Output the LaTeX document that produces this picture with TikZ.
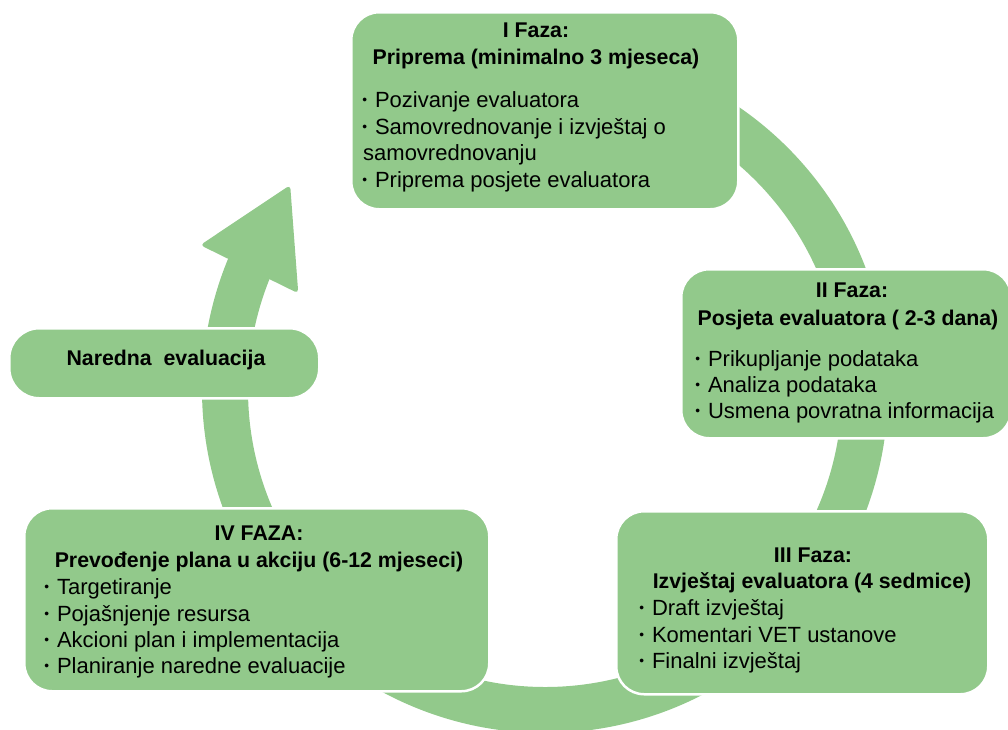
\documentclass[tikz,border=0pt]{standalone}
\usepackage{fontspec}
\setmainfont{Liberation Sans}
\definecolor{leaf}{RGB}{146,201,139}
% small list bullet followed by its gap
\newcommand{\listdot}{\makebox[13.8pt][l]{\hspace{1.2pt}\raisebox{2.8pt}{\scalebox{0.62}{•}}}}
\tikzset{
  box/.style={fill=leaf, draw=white, line width=2.5pt, rounded corners=28pt,
    anchor=north west, inner sep=0pt},
  ringline/.style={draw=leaf, line width=46pt},
  headtip/.style={fill=leaf, rounded corners=4pt},
  head/.style={inner sep=0pt, anchor=base, font=\fontsize{21.3}{26}\selectfont\bfseries},
  item/.style={inner sep=0pt, anchor=base west, font=\fontsize{22}{27}\selectfont},
}
\begin{document}
\begin{tikzpicture}[x=1pt,y=-1pt]
\useasboundingbox (0,0) rectangle (1008,729);

% circular arrow running clockwise behind the boxes
\begin{scope}[shift={(545,390)}]
  \coordinate (ringstart) at (-90:320);
  \draw[ringline] (ringstart) arc[start angle=-90, end angle=205, radius=320];
  \fill[headtip] (201.4:265) -- (218.8:327) -- (202.8:374) -- cycle;
\end{scope}

% phase boxes
\node[box, minimum width=387pt, minimum height=197pt] (b1) at (350,11) {};
\node[box, minimum width=330pt, minimum height=169pt] (b2) at (680,268) {};
\node[box, minimum width=372pt, minimum height=183pt] (b3) at (615,510) {};
\node[box, minimum width=465pt, minimum height=183pt] (b4) at (23,507) {};
\node[box, minimum width=310pt, minimum height=70pt, rounded corners=30pt] (b5) at (8,327) {};

% phase I
\node[head] (h1a) at (536,37) {I Faza:};
\node[head] (h1b) at (536,64) {Priprema (minimalno 3 mjeseca)};
\node[item] (i1a) at (361,107) {\listdot Pozivanje evaluatora};
\node[item] (i1b) at (361,134) {\listdot Samovrednovanje i izvještaj o};
\node[item] (i1c) at (363,160) {samovrednovanju};
\node[item] (i1d) at (361,187) {\listdot Priprema posjete evaluatora};

% phase II
\node[head] (h2a) at (852,297) {II Faza:};
\node[head] (h2b) at (848,325) {Posjeta evaluatora ( 2-3 dana)};
\node[item] (i2a) at (694,366) {\listdot Prikupljanje podataka};
\node[item] (i2b) at (694,392) {\listdot Analiza podataka};
\node[item] (i2c) at (694,418) {\listdot Usmena povratna informacija};

% phase III
\node[head] (h3a) at (813,562) {III Faza:};
\node[head] (h3b) at (812,588) {Izvještaj evaluatora (4 sedmice)};
\node[item] (i3a) at (638,615) {\listdot Draft izvještaj};
\node[item] (i3b) at (638,642) {\listdot Komentari VET ustanove};
\node[item] (i3c) at (638,668) {\listdot Finalni izvještaj};

% phase IV
\node[head] (h4a) at (259,540) {IV FAZA:};
\node[head] (h4b) at (259,567) {Prevođenje plana u akciju (6-12 mjeseci)};
\node[item] (i4a) at (43,594) {\listdot Targetiranje};
\node[item] (i4b) at (43,621) {\listdot Pojašnjenje resursa};
\node[item] (i4c) at (43,647) {\listdot Akcioni plan i implementacija};
\node[item] (i4d) at (43,673) {\listdot Planiranje naredne evaluacije};

% next evaluation
\node[head] (h5) at (166,365) {Naredna\ \ evaluacija};
\end{tikzpicture}
\end{document}
